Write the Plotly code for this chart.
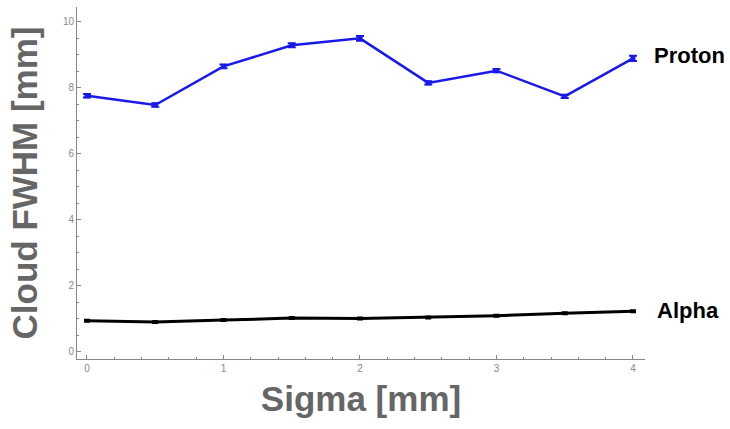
import plotly.graph_objects as go

sigma = [0, 0.5, 1, 1.5, 2, 2.5, 3, 3.5, 4]
proton = [7.76, 7.48, 8.65, 9.29, 9.50, 8.15, 8.52, 7.74, 8.89]
proton_err = [0.05, 0.05, 0.06, 0.06, 0.07, 0.05, 0.05, 0.05, 0.08]
alpha = [0.94, 0.90, 0.96, 1.02, 1.01, 1.04, 1.09, 1.17, 1.23]
alpha_err = [0.03, 0.03, 0.03, 0.03, 0.03, 0.03, 0.03, 0.03, 0.03]

fig = go.Figure()
fig.add_trace(go.Scatter(
    x=sigma, y=proton, mode="lines+markers",
    line=dict(color="rgb(25,25,235)", width=2.5),
    marker=dict(symbol="square", size=5, color="rgb(25,25,235)"),
    error_y=dict(type="data", array=proton_err, color="rgb(25,25,235)", thickness=2, width=4),
    showlegend=False, cliponaxis=False))
fig.add_trace(go.Scatter(
    x=sigma, y=alpha, mode="lines",
    line=dict(color="black", width=3),
    error_y=dict(type="data", array=alpha_err, color="black", thickness=2, width=3),
    showlegend=False, cliponaxis=False))

fig.add_annotation(x=1.0115, y=proton[-1] + 0.1, xref="paper", yref="y", text="<b>Proton</b>",
                   showarrow=False, xanchor="left", font=dict(family="Liberation Sans, Arial", size=22, color="black"))
fig.add_annotation(x=1.017, y=alpha[-1] + 0.02, xref="paper", yref="y", text="<b>Alpha</b>",
                   showarrow=False, xanchor="left", font=dict(family="Liberation Sans, Arial", size=22, color="black"))

axis_common = dict(showgrid=False, zeroline=False, showline=True, linecolor="#888", linewidth=1,
                   ticks="inside", tickcolor="#888", ticklen=4, tickwidth=1,
                   tickfont=dict(family="Liberation Sans, Arial", size=10, color="#888"))

fig.update_xaxes(range=[-0.073, 4.088], tickvals=[0, 1, 2, 3, 4],
                 minor=dict(dtick=0.2, ticks="inside", ticklen=2, tickcolor="#888"),
                 title=dict(text="<b>Sigma [mm]</b>", standoff=13,
                            font=dict(family="Liberation Sans, Arial", size=35, color="#666")),
                 **axis_common)
fig.update_yaxes(range=[-0.22, 10.45], tickvals=[0, 2, 4, 6, 8, 10],
                 minor=dict(dtick=0.5, ticks="inside", ticklen=2, tickcolor="#888"),
                 title=dict(text="<b>Cloud FWHM [mm]</b>", standoff=14,
                            font=dict(family="Liberation Sans, Arial", size=35, color="#666")),
                 **axis_common)

fig.update_layout(width=730, height=429, margin=dict(l=77, r=85, t=7, b=70),
                  plot_bgcolor="white", paper_bgcolor="white")
fig.write_html("out.html")
